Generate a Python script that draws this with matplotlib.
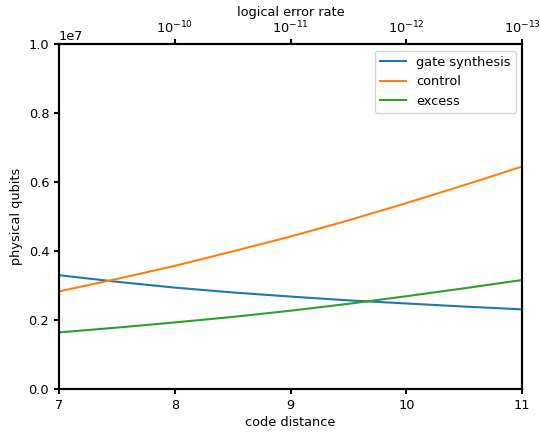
import matplotlib
matplotlib.use("Agg")
import matplotlib.pyplot as plt

code_distance = [7, 7.5, 8, 8.5, 9, 9.5, 10, 10.5, 11]
gate_synthesis = [3.30e6, 3.11e6, 2.94e6, 2.80e6, 2.68e6, 2.57e6, 2.48e6, 2.39e6, 2.31e6]
control = [2.83e6, 3.19e6, 3.57e6, 3.99e6, 4.42e6, 4.89e6, 5.39e6, 5.91e6, 6.45e6]
excess = [1.64e6, 1.78e6, 1.93e6, 2.09e6, 2.27e6, 2.47e6, 2.69e6, 2.92e6, 3.16e6]

top_tick_positions = [8, 9, 10, 11]
top_tick_labels = [r"$10^{-10}$", r"$10^{-11}$", r"$10^{-12}$", r"$10^{-13}$"]

plt.rcParams["font.size"] = 9.3
plt.rcParams["axes.linewidth"] = 1.5
plt.rcParams["xtick.major.width"] = 1.5
plt.rcParams["ytick.major.width"] = 1.5

fig = plt.figure(figsize=(5.4, 4.32), dpi=100)
ax = fig.add_axes([0.109, 0.0995, 0.858, 0.7985])
ax.plot(code_distance, gate_synthesis, label="gate synthesis", lw=1.5)
ax.plot(code_distance, control, label="control", lw=1.5)
ax.plot(code_distance, excess, label="excess", lw=1.5)
ax.set_xlim(7, 11)
ax.set_ylim(0, 1e7)
ax.set_xticks([7, 8, 9, 10, 11])
ax.set_xlabel("code distance", labelpad=3)
ax.set_ylabel("physical qubits")
ax.legend(loc="upper right")

ax2 = ax.twiny()
ax2.set_xlim(ax.get_xlim())
ax2.set_xticks(top_tick_positions)
ax2.set_xticklabels(top_tick_labels)
ax2.tick_params(axis="x", pad=2)
ax2.set_xlabel("logical error rate", labelpad=3)

fig.savefig("out.png", dpi=100)
